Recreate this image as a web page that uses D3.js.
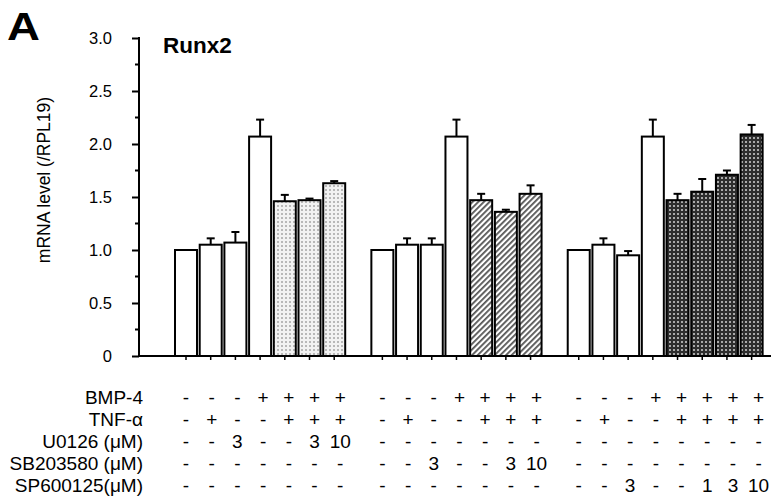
<!DOCTYPE html>
<html>
<head>
<meta charset="utf-8">
<script src="https://cdn.jsdelivr.net/npm/d3@7"></script>
<style>
  body { margin: 0; background: #fff; }
  svg { display: block; font-family: "Liberation Sans", Arial, sans-serif; }
</style>
</head>
<body>
<svg id="chart" width="771" height="504"></svg>
<script>
// values (mRNA level relative to RPL19)
let values1 = [1.0, 1.05, 1.07, 2.07, 1.46, 1.47, 1.63];
let errors1 = [0, 0.06, 0.10, 0.16, 0.06, 0.015, 0.02];
let values2 = [1.0, 1.05, 1.05, 2.07, 1.47, 1.36, 1.53];
let errors2 = [0, 0.06, 0.06, 0.16, 0.06, 0.02, 0.08];
let values3 = [1.0, 1.05, 0.95, 2.07, 1.47, 1.55, 1.71, 2.09];
let errors3 = [0, 0.06, 0.04, 0.16, 0.06, 0.12, 0.04, 0.09];

let fills1 = ["white","white","white","white","dots","dots","dots"];
let fills2 = ["white","white","white","white","hatch","hatch","hatch"];
let fills3 = ["white","white","white","white","mesh","mesh","mesh","mesh"];

let rowNames = ["BMP-4", "TNF-\u03b1", "U0126 (\u03bcM)", "SB203580 (\u03bcM)", "SP600125(\u03bcM)"];
let bmpRow  = ["-","-","-","+","+","+","+",  "-","-","-","+","+","+","+",  "-","-","-","+","+","+","+","+"];
let tnfRow  = ["-","+","-","-","+","+","+",  "-","+","-","-","+","+","+",  "-","+","-","-","+","+","+","+"];
let uRow    = ["-","-","3","-","-","3","10",  "-","-","-","-","-","-","-",  "-","-","-","-","-","-","-","-"];
let sbRow   = ["-","-","-","-","-","-","-",  "-","-","3","-","-","3","10",  "-","-","-","-","-","-","-","-"];
let spRow   = ["-","-","-","-","-","-","-",  "-","-","-","-","-","-","-",  "-","-","3","-","-","1","3","10"];

let yTicks = [0, 0.5, 1.0, 1.5, 2.0, 2.5, 3.0];
let yMinor = [0.25, 0.75, 1.25, 1.75, 2.25, 2.75];

// build flat bar list
let bars = [];
[[values1, errors1, fills1], [values2, errors2, fills2], [values3, errors3, fills3]].forEach(function(g, gi) {
  g[0].forEach(function(v, i) {
    bars.push({group: gi, pos: i, value: v, err: g[1][i], fill: g[2][i]});
  });
});
bars.forEach(function(d, i) { d.slot = i + d.group * 0.95; });

let svg = d3.select("#chart");

let defs = svg.append("defs");
let pDots = defs.append("pattern").attr("id","dots").attr("patternUnits","userSpaceOnUse")
  .attr("width",4).attr("height",4);
pDots.append("rect").attr("width",4).attr("height",4).attr("fill","#f2f2f2");
pDots.append("rect").attr("x",1).attr("y",1).attr("width",2).attr("height",2).attr("fill","#b8b8b8");

let pHatch = defs.append("pattern").attr("id","hatch").attr("patternUnits","userSpaceOnUse")
  .attr("width",4).attr("height",4).attr("patternTransform","rotate(45)");
pHatch.append("rect").attr("width",4).attr("height",4).attr("fill","#fff");
pHatch.append("rect").attr("width",1.8).attr("height",4).attr("fill","#555");

let pMesh = defs.append("pattern").attr("id","mesh").attr("patternUnits","userSpaceOnUse")
  .attr("width",4).attr("height",4);
pMesh.append("rect").attr("width",4).attr("height",4).attr("fill","#2e2e2e");
pMesh.append("rect").attr("x",1).attr("y",1).attr("width",2).attr("height",2).attr("fill","#aaa");

let x = d3.scaleLinear().domain([0, 1]).range([186, 210.7]);
let y = d3.scaleLinear().domain([0, 3]).range([356, 38]);
let barW = 22;

// y axis
let yAxis = svg.append("g").attr("transform","translate(139,0)")
  .call(d3.axisLeft(y).tickValues(yTicks).tickSize(7).tickPadding(20)
    .tickFormat(function(d){ return d === 0 ? "0" : d3.format(".1f")(d); }));
yAxis.select(".domain").remove();
yAxis.selectAll(".tick line").attr("stroke","#000").attr("stroke-width",2);
yAxis.selectAll(".tick text").attr("font-size",16.5).attr("fill","#000")
  .attr("font-family","Liberation Sans, Arial, sans-serif");
yAxis.append("g").selectAll("line").data(yMinor).enter().append("line")
  .attr("x1",-4).attr("x2",0).attr("y1",function(d){ return y(d); }).attr("y2",function(d){ return y(d); })
  .attr("stroke","#000").attr("stroke-width",2);
yAxis.append("line").attr("x1",0).attr("x2",0).attr("y1",y(3)-1).attr("y2",y(0))
  .attr("stroke","#000").attr("stroke-width",2);

// bars
svg.append("g").selectAll("rect").data(bars).enter().append("rect")
  .attr("x", function(d){ return x(d.slot) - barW/2; })
  .attr("y", function(d){ return y(d.value); })
  .attr("width", barW)
  .attr("height", function(d){ return y(0) - y(d.value); })
  .attr("fill", function(d){ return d.fill === "white" ? "#fff" : "url(#" + d.fill + ")"; })
  .attr("stroke","#000").attr("stroke-width",2);

// error bars
let eb = svg.append("g").attr("stroke","#000").attr("stroke-width",2);
eb.selectAll("line.v").data(bars.filter(function(d){ return d.err > 0; })).enter().append("line")
  .attr("class","v")
  .attr("x1", function(d){ return x(d.slot); }).attr("x2", function(d){ return x(d.slot); })
  .attr("y1", function(d){ return y(d.value); }).attr("y2", function(d){ return y(d.value + d.err); });
eb.selectAll("line.c").data(bars.filter(function(d){ return d.err > 0; })).enter().append("line")
  .attr("class","c")
  .attr("x1", function(d){ return x(d.slot) - 4; }).attr("x2", function(d){ return x(d.slot) + 4; })
  .attr("y1", function(d){ return y(d.value + d.err); }).attr("y2", function(d){ return y(d.value + d.err); });

// x axis line and ticks
svg.append("line").attr("x1",138).attr("x2",771).attr("y1",y(0)).attr("y2",y(0))
  .attr("stroke","#000").attr("stroke-width",2);
svg.append("g").selectAll("line").data(bars).enter().append("line")
  .attr("x1", function(d){ return x(d.slot); }).attr("x2", function(d){ return x(d.slot); })
  .attr("y1", y(0)).attr("y2", y(0) + 4)
  .attr("stroke","#000").attr("stroke-width",1.5);

// treatment table: columns spread a little wider than the bars
let firstSlot = [0, 7, 14].map(function(i){ return bars[i].slot; });
let colStep = 25.7;
function colX(d) { return x(firstSlot[d.group]) + d.pos * colStep; }

let rows = [bmpRow, tnfRow, uRow, sbRow, spRow];
let rowY = d3.scalePoint().domain(d3.range(rows.length)).range([397, 485]);
let table = svg.append("g").attr("font-size",19).attr("fill","#000").style("opacity",0.995);
rows.forEach(function(r, ri) {
  table.append("text").attr("x",143).attr("y",rowY(ri)).attr("dy","0.36em")
    .attr("text-anchor","end").text(rowNames[ri]);
  table.selectAll("text.c" + ri).data(r).enter().append("text")
    .attr("class","c" + ri)
    .attr("x", function(d, i){ return colX(bars[i]); })
    .attr("y", rowY(ri)).attr("dy","0.36em")
    .attr("text-anchor","middle")
    .text(function(d){ return d; });
});

// titles
svg.append("text").attr("transform","translate(7,40) scale(1.2,1)")
  .attr("font-size",38).attr("font-weight","bold").text("A");
svg.append("text").attr("x",163).attr("y",53).attr("font-size",22.5).attr("font-weight","bold").text("Runx2");
svg.append("text").attr("transform","translate(50,180) rotate(-90)")
  .attr("text-anchor","middle").attr("font-size",17.5).text("mRNA level (/RPL19)");
</script>
</body>
</html>
